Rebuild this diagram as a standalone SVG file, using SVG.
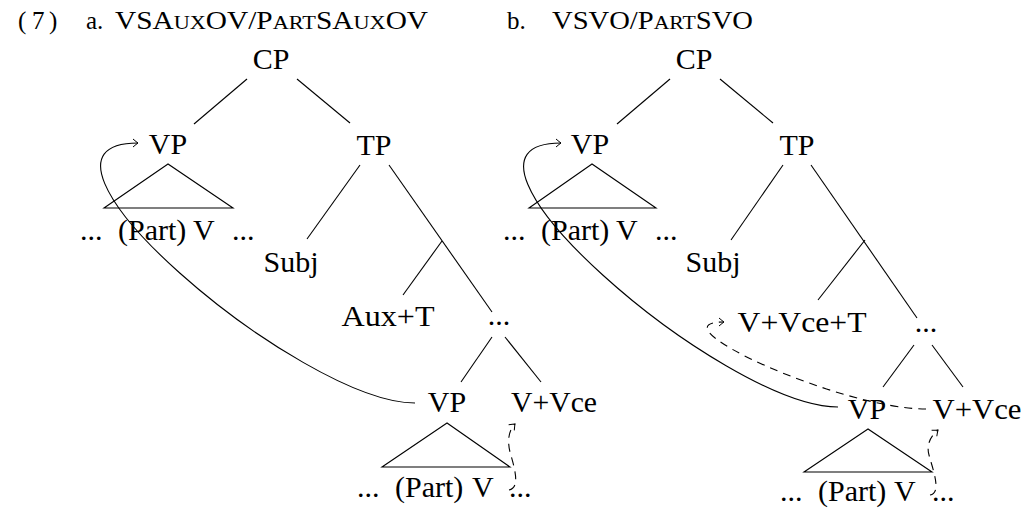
<svg xmlns="http://www.w3.org/2000/svg" width="1031" height="508" viewBox="0 0 1031 508">
<style>
  text { font-family: "Liberation Serif", "DejaVu Serif", serif; fill: #000; }
  .hd { font-size: 25px; }
  .sc { font-size: 19px; }
  .lb { font-size: 30px; text-anchor: middle; }
  .sq { font-size: 30px; }
  .ln { stroke: #000; stroke-width: 1.1; fill: none; }
  .tri { stroke: #000; stroke-width: 1.1; fill: none; stroke-linejoin: miter; }
  .mv { stroke: #000; stroke-width: 1.1; fill: none; marker-end: url(#arr); }
  .dash { stroke-dasharray: 8 6; }
</style>
<defs>
  <marker id="arr" markerUnits="userSpaceOnUse" markerWidth="14" markerHeight="14" refX="0" refY="0" viewBox="-8 -7 10 14" orient="auto" overflow="visible">
    <path d="M-5,-4 Q-1.5,-1 0,0 Q-1.5,1 -5,4" fill="none" stroke="#000" stroke-width="1" stroke-dasharray="none"/>
  </marker>
</defs>
<rect width="1031" height="508" fill="#fff"/>

<g id="header">
  <text class="hd" y="29"><tspan x="18">(</tspan><tspan x="32">7</tspan><tspan x="49">)</tspan></text>
  <text class="hd" x="86" y="29">a.</text>
  <text class="hd" x="115" y="29" textLength="313" lengthAdjust="spacingAndGlyphs">VSA<tspan class="sc">UX</tspan>OV/P<tspan class="sc">ART</tspan>SA<tspan class="sc">UX</tspan>OV</text>
  <text class="hd" x="507" y="29">b.</text>
  <text class="hd" x="552" y="29" textLength="201" lengthAdjust="spacingAndGlyphs">VSVO/P<tspan class="sc">ART</tspan>SVO</text>
</g>

<g id="connectors">
  <!-- tree a -->
  <line class="ln" x1="247" y1="79" x2="194" y2="124"/>
  <line class="ln" x1="297" y1="79" x2="350" y2="123"/>
  <line class="ln" x1="360" y1="165" x2="307" y2="239"/>
  <line class="ln" x1="389" y1="165" x2="492" y2="312"/>
  <line class="ln" x1="442" y1="241" x2="403" y2="295"/>
  <line class="ln" x1="492" y1="337" x2="461" y2="382"/>
  <line class="ln" x1="505" y1="337" x2="541" y2="382"/>
  <polygon class="tri" points="168,164 104,208 233,208"/>
  <polygon class="tri" points="447,423 382,467 510,467"/>
  <path class="mv" d="M415,403 C300,403 -5,143 138,143"/>
  <path class="mv dash" d="M509,490 C521,488 514,466 510,452 C507,440 509,430 515,424"/>
  <!-- tree b -->
  <line class="ln" x1="670" y1="79" x2="617" y2="124"/>
  <line class="ln" x1="720" y1="79" x2="773" y2="123"/>
  <line class="ln" x1="783" y1="165" x2="731" y2="240"/>
  <line class="ln" x1="811" y1="165" x2="917" y2="318"/>
  <line class="ln" x1="865" y1="240" x2="818" y2="300"/>
  <line class="ln" x1="914" y1="345" x2="883" y2="387"/>
  <line class="ln" x1="932" y1="345" x2="963" y2="387"/>
  <polygon class="tri" points="592,164 529,208 656,208"/>
  <polygon class="tri" points="868,429 804,472 932,472"/>
  <path class="mv" d="M838,407 C723,407 418,143 561,143"/>
  <path class="mv dash" d="M926,409 C840,409 650,322 724,322"/>
  <path class="mv dash" d="M930,495 C942,493 933,470 929,455 C926,444 931,436 938,430"/>
</g>

<g id="a-CP"><text class="lb" x="271" y="69">CP</text></g>
<g id="a-VP"><text class="lb" x="168" y="154">VP</text></g>
<g id="a-TP"><text class="lb" x="374" y="155">TP</text></g>
<g id="a-VP-content"><text class="sq" y="240"><tspan x="80">...</tspan><tspan x="118">(Part)</tspan><tspan x="193">V</tspan><tspan x="232">...</tspan></text></g>
<g id="a-Subj"><text class="lb" x="291" y="272">Subj</text></g>
<g id="a-AuxT"><text class="lb" x="388" y="326" textLength="93" lengthAdjust="spacingAndGlyphs">Aux+T</text></g>
<g id="a-dots"><text class="lb" x="499" y="325">...</text></g>
<g id="a-VP2"><text class="lb" x="447" y="412">VP</text></g>
<g id="a-VVce"><text class="lb" x="554" y="412" textLength="86" lengthAdjust="spacingAndGlyphs">V+Vce</text></g>
<g id="a-VP2-content"><text class="sq" y="497"><tspan x="357">...</tspan><tspan x="395">(Part)</tspan><tspan x="472">V</tspan><tspan x="509">...</tspan></text></g>

<g id="b-CP"><text class="lb" x="694" y="69">CP</text></g>
<g id="b-VP"><text class="lb" x="590" y="154">VP</text></g>
<g id="b-TP"><text class="lb" x="797" y="155">TP</text></g>
<g id="b-VP-content"><text class="sq" y="240"><tspan x="503">...</tspan><tspan x="541">(Part)</tspan><tspan x="616">V</tspan><tspan x="655">...</tspan></text></g>
<g id="b-Subj"><text class="lb" x="713" y="272">Subj</text></g>
<g id="b-VVceT"><text class="lb" x="802" y="332" textLength="129" lengthAdjust="spacingAndGlyphs">V+Vce+T</text></g>
<g id="b-dots"><text class="lb" x="926" y="332">...</text></g>
<g id="b-VP2"><text class="lb" x="867" y="419">VP</text></g>
<g id="b-VVce"><text class="lb" x="977" y="419" textLength="89" lengthAdjust="spacingAndGlyphs">V+Vce</text></g>
<g id="b-VP2-content"><text class="sq" y="501"><tspan x="780">...</tspan><tspan x="818">(Part)</tspan><tspan x="894">V</tspan><tspan x="932">...</tspan></text></g>
</svg>
